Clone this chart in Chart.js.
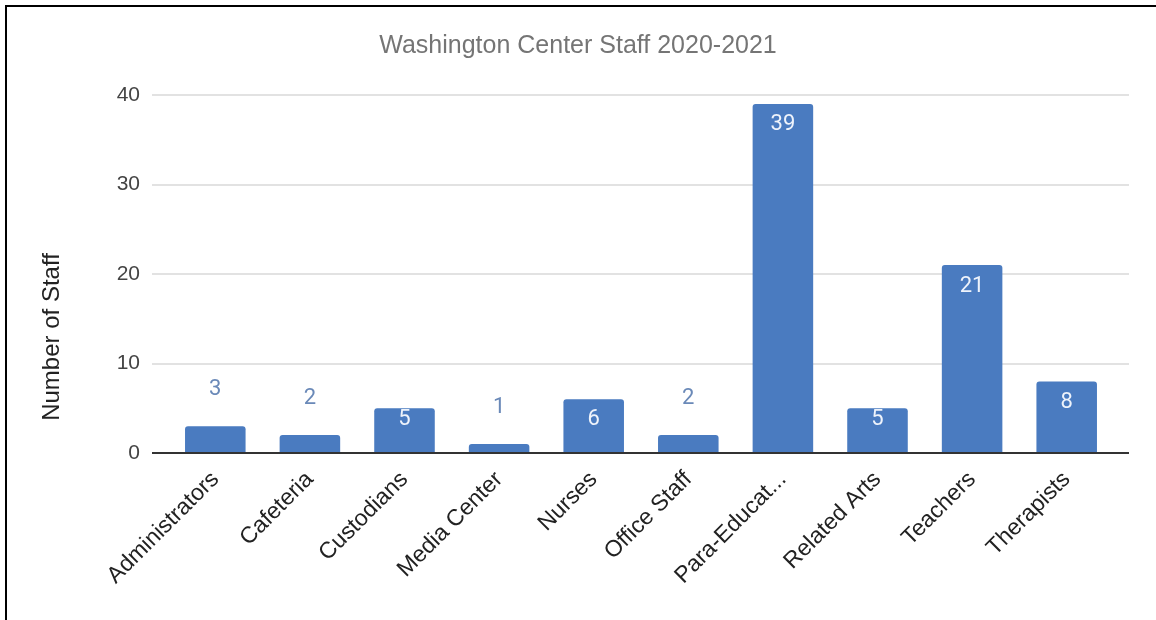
<!DOCTYPE html>
<html>
<head>
<meta charset="utf-8">
<script src="https://cdn.jsdelivr.net/npm/chart.js@4"></script>
<style>
  body { margin: 0; background: #fff; }
  #wrap { position: absolute; left: 0; top: 0; width: 1156px; height: 620px; }
  #frame { position: absolute; left: 5px; top: 5px; width: 1170px; height: 640px;
           border-left: 2px solid #000; border-top: 2px solid #000; pointer-events: none; }
</style>
</head>
<body>
<div id="wrap"><canvas id="staffChart"></canvas></div>
<div id="frame"></div>
<script>
var categories = ['Administrators', 'Cafeteria', 'Custodians', 'Media Center', 'Nurses',
                  'Office Staff', 'Para-Educat...', 'Related Arts', 'Teachers', 'Therapists'];
var staffCounts = [3, 2, 5, 1, 6, 2, 39, 5, 21, 8];
var yTicks = [0, 10, 20, 30, 40];
var chartTitle = 'Washington Center Staff 2020-2021';
var yTitle = 'Number of Staff';

var barColor = '#4a7bc0';

// value labels: white inside tall bars, blue above short ones
var valueLabels = {
    id: 'valueLabels',
    afterDatasetsDraw: function(chart) {
        var ctx = chart.ctx;
        var meta = chart.getDatasetMeta(0);
        ctx.save();
        ctx.font = '22px Roboto';
        ctx.textAlign = 'center';
        ctx.textBaseline = 'middle';
        meta.data.forEach(function(bar, i) {
            var v = chart.data.datasets[0].data[i];
            var h = bar.base - bar.y;
            if (h > 40) {
                ctx.fillStyle = '#eef3fb';
                ctx.fillText(v, bar.x, Math.min(bar.y + 21, bar.base - 33));
            } else {
                ctx.fillStyle = '#6a89b8';
                ctx.fillText(v, bar.x, bar.y - 37);
            }
        });
        ctx.restore();
    }
};

// grid lines in the reference run a bit past the plot on the right; y title sits low
var extras = {
    id: 'extras',
    beforeDatasetsDraw: function(chart) {
        var ctx = chart.ctx;
        var y = chart.scales.y;
        var area = chart.chartArea;
        ctx.save();
        y.ticks.forEach(function(t) {
            var py = Math.round(y.getPixelForValue(t.value));
            ctx.strokeStyle = t.value === 0 ? '#333333' : '#e2e2e2';
            ctx.lineWidth = 2;
            ctx.beginPath();
            ctx.moveTo(area.left, py);
            ctx.lineTo(area.right + 15, py);
            ctx.stroke();
        });
        ctx.restore();
    },
    afterDraw: function(chart) {
        var ctx = chart.ctx;
        ctx.save();
        ctx.translate(52, 337);
        ctx.rotate(-Math.PI / 2);
        ctx.font = '24px "Liberation Sans", Arial';
        ctx.fillStyle = '#222';
        ctx.textAlign = 'center';
        ctx.textBaseline = 'middle';
        ctx.fillText(yTitle, 0, 0);
        ctx.restore();
    }
};

var ctx = document.getElementById('staffChart').getContext('2d');
var staffChart = new Chart(ctx, {
    type: 'bar',
    data: {
        labels: categories,
        datasets: [{
            label: 'Staff',
            data: staffCounts,
            backgroundColor: barColor,
            borderRadius: 3,
            borderSkipped: 'bottom',
            barPercentage: 0.8,
            categoryPercentage: 0.8
        }]
    },
    options: {
        responsive: true,
        maintainAspectRatio: false,
        animation: false,
        layout: { padding: 0 },
        plugins: {
            legend: { display: false },
            tooltip: { enabled: false },
            title: {
                display: true,
                text: chartTitle,
                color: '#757575',
                font: { family: '"Liberation Sans", Arial', size: 25, weight: 'normal' },
                padding: { top: 31, bottom: 34 }
            }
        },
        scales: {
            x: {
                grid: { display: false },
                border: { display: false },
                ticks: {
                    color: '#222',
                    font: { family: '"Liberation Sans", Arial', size: 23 },
                    maxRotation: 45,
                    minRotation: 45,
                    autoSkip: false,
                    padding: 5
                },
                afterFit: function(scale) { scale.height = 167; }
            },
            y: {
                min: 0,
                max: 40,
                border: { display: false },
                afterBuildTicks: function(scale) {
                    scale.ticks = yTicks.map(function(v) { return { value: v }; });
                },
                grid: {
                    color: function(c) { return c.tick && c.tick.value === 0 ? '#333333' : '#e2e2e2'; },
                    lineWidth: 2,
                    drawTicks: true,
                    tickLength: 16
                },
                ticks: {
                    color: '#444',
                    font: { family: '"Liberation Sans", Arial', size: 21 },
                    padding: 12
                },
                afterFit: function(scale) { scale.width = 168; }
            },
            // empty right-hand axis that only reserves the right margin
            yRight: {
                position: 'right',
                min: 0,
                max: 40,
                grid: { display: false },
                border: { display: false },
                ticks: { display: false },
                afterFit: function(scale) { scale.width = 42; }
            }
        }
    },
    plugins: [valueLabels, extras]
});
</script>
</body>
</html>
